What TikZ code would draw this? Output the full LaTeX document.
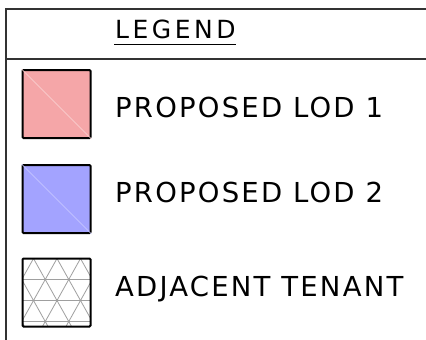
\documentclass[tikz,border=0pt]{standalone}
\usepackage{fontspec}
\setmainfont{DejaVu Sans}
\newfontfamily\legendfont[LetterSpace=8]{DejaVu Sans}
\newfontfamily\titlefont[LetterSpace=14]{DejaVu Sans}
\usetikzlibrary{positioning, calc}

\definecolor{lodone}{HTML}{F5A6A8}
\definecolor{lodtwo}{HTML}{A3A3FF}
\definecolor{framegray}{HTML}{333333}

\begin{document}
\begin{tikzpicture}[
  x=1pt, y=-1pt,
  every node/.style={inner sep=0pt},
  frame/.style={draw=framegray, line width=1.4pt},
  swatch/.style={rectangle, draw=black, line width=2pt, rounded corners=1pt, minimum size=68pt},
  legtext/.style={anchor=west, font=\legendfont\fontsize{27.5}{29}\selectfont},
  hatch/.style={draw=gray!75, line width=0.8pt},
]
  \useasboundingbox (0,0) rectangle (426,340);

  % frame of the legend box
  \draw[frame] (6,341) -- (6,9) -- (427,9);
  \draw[frame] (6,59) -- (427,59);

  % title
  \node[anchor=west, font=\titlefont\fontsize{25}{27}\selectfont] (title) at (115,29) {LEGEND};
  \draw[line width=1.3pt] ($(title.south west)+(-1,6)$) -- ($(title.south east)+(0,6)$);

  % swatches
  \node[swatch, fill=lodone] (lod1) at (56.5,104) {};
  \draw[white!55!lodone, line width=0.4pt] (lod1.north west) -- (lod1.south east);
  \node[swatch, fill=lodtwo] (lod2) at (56.5,199) {};
  \draw[white!45!lodtwo, line width=0.4pt] (lod2.north west) -- (lod2.south east);
  \node[swatch, fill=white, path picture={
      \foreach \k in {-3,...,4} {
        \draw[hatch] ($(path picture bounding box.north west)+(11+23.5*\k,0)$) -- ++(47,84);
        \draw[hatch] ($(path picture bounding box.north west)+(11+23.5*\k,0)$) -- ++(-47,84);
      }
      \foreach \j in {1,2,3}
        \draw[hatch] ($(path picture bounding box.north west)+(0,21*\j)$) -- ++(80,0);
    }] (tenant) at (56.5,292.5) {};

  % labels
  \node[legtext] (lod1txt) at (115,107) {PROPOSED LOD 1};
  \node[legtext] (lod2txt) at (115,192.5) {PROPOSED LOD 2};
  \node[legtext] (tenanttxt) at (115,289) {ADJACENT TENANT};
\end{tikzpicture}
\end{document}
